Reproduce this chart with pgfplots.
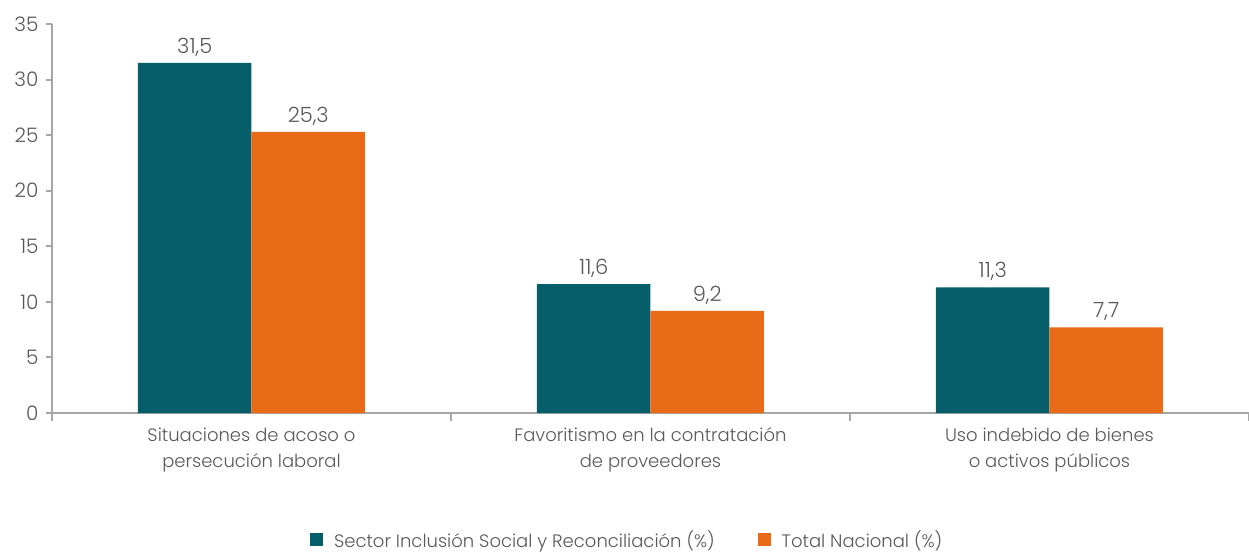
\documentclass[border=0pt]{standalone}
\usepackage{pgfplots}
\pgfplotsset{compat=1.18}
\usepackage{fontspec}
\setmainfont{Poppins}[UprightFont={* Light}]
\definecolor{teal1}{HTML}{065E6B}
\definecolor{orange1}{HTML}{E96A17}
\definecolor{txt}{HTML}{595959}
\definecolor{axg}{HTML}{A6A6A6}
\begin{document}
\begin{tikzpicture}
\path[use as bounding box] (0,0) rectangle (1249pt,552pt);
\begin{axis}[
  at={(52pt,139pt)}, anchor=south west,
  scale only axis, width=1197pt, height=389pt,
  xmin=-0.5, xmax=2.5, ymin=0, ymax=35,
  ybar=0pt, bar width=113.5pt,
  axis x line*=bottom, axis y line*=left,
  axis line style={axg, line width=2pt},
  every outer x axis line/.append style={-},
  every outer y axis line/.append style={-},
  xtick={0,1,2},
  xticklabels={{Situaciones de acoso o\\persecución laboral},{Favoritismo en la contratación\\de proveedores},{Uso indebido de bienes\\o activos públicos}},
  xticklabel style={align=center, font=\fontsize{18}{26}\selectfont, text=txt, yshift=-5pt},
  minor xtick={-0.5,0.5,1.5,2.5},
  major x tick style={draw=none},
  minor x tick style={axg, line width=2pt},
  minor tick length=8pt,
  ytick={0,5,...,35},
  major tick length=6pt,
  tick align=outside,
  y tick style={axg, line width=2pt},
  yticklabel style={font=\fontsize{20}{24}\selectfont, text=txt, xshift=-4pt, /pgf/number format/.cd, fixed, precision=0},
  /pgf/number format/assume math mode=true,
  nodes near coords,
  nodes near coords style={font=\fontsize{21}{24}\selectfont, text=txt, yshift=3pt, /pgf/number format/.cd, use comma, fixed, fixed zerofill, precision=1},
  legend columns=2,
  legend style={draw=none, at={(0.4805,-0.325)}, anchor=center, font=\fontsize{18}{22}\selectfont, text=txt,
    /tikz/every odd column/.append style={column sep=9pt},
    /tikz/every even column/.append style={column sep=41pt}},
  legend image code/.code={\fill[#1] (0pt,-6.5pt) rectangle (13pt,6.5pt);},
]
\addplot[fill=teal1, draw=none] coordinates {(0,31.5) (1,11.6) (2,11.3)};
\addplot[fill=orange1, draw=none] coordinates {(0,25.3) (1,9.2) (2,7.7)};
\legend{Sector Inclusión Social y Reconciliación (\%), Total Nacional (\%)}
\end{axis}
\end{tikzpicture}
\end{document}
